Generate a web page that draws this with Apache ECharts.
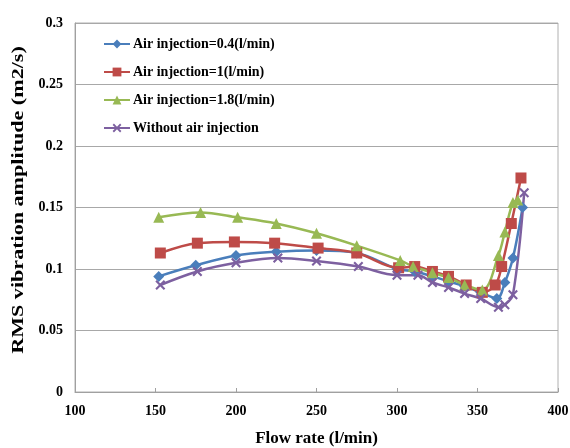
<!DOCTYPE html>
<html>
<head>
    <meta charset="utf-8" />
    <script src="https://cdn.jsdelivr.net/npm/echarts@6.0.0/dist/echarts.min.js"></script>
    <style>
        body { margin: 0px; overflow: hidden; background: #fff; }
        #main { width: 570px; height: 448px; }
    </style>
</head>
<body>
    <div id="main"></div>
</body>
<script type="text/javascript">
    // Air injection = 0.4 l/min
    var flow04 = [152, 175, 200, 225, 250, 275, 300, 311, 322, 332, 342, 352, 362, 367, 372, 378];
    var rms04 = [0.094, 0.103, 0.111, 0.114, 0.115, 0.113, 0.100, 0.098, 0.094, 0.090, 0.086, 0.081, 0.076, 0.089, 0.109, 0.150];
    // Air injection = 1 l/min
    var flow1 = [153, 176, 199, 224, 251, 275, 301, 311, 322, 332, 343, 353, 361, 365, 371, 377];
    var rms1 = [0.113, 0.121, 0.122, 0.121, 0.117, 0.113, 0.101, 0.102, 0.098, 0.094, 0.087, 0.081, 0.087, 0.102, 0.137, 0.174];
    // Air injection = 1.8 l/min
    var flow18 = [152, 178, 201, 225, 250, 275, 302, 310, 322, 332, 342, 353, 363, 367, 372, 375];
    var rms18 = [0.142, 0.146, 0.142, 0.137, 0.129, 0.119, 0.107, 0.102, 0.097, 0.093, 0.087, 0.083, 0.111, 0.130, 0.154, 0.156];
    // Without air injection
    var flow0 = [153, 176, 200, 226, 250, 276, 300, 313, 322, 332, 342, 352, 363, 367, 372, 379];
    var rms0 = [0.087, 0.098, 0.105, 0.109, 0.1065, 0.102, 0.095, 0.095, 0.089, 0.085, 0.080, 0.076, 0.069, 0.071, 0.079, 0.162];

    var seriesNames = ['Air injection=0.4(l/min)', 'Air injection=1(l/min)', 'Air injection=1.8(l/min)', 'Without air injection'];
    var xTicks = [100, 150, 200, 250, 300, 350, 400];
    var yTicks = [0, 0.05, 0.1, 0.15, 0.2, 0.25, 0.3];
    var yTitle = 'RMS vibration amplitude (m2/s)';
    var xTitle = 'Flow rate (l/min)';

    function pairs(xs, ys) {
        return xs.map(function (x, i) { return [x, ys[i]]; });
    }

    var xMark = 'path://M0,1.5 L1.5,0 L5,3.5 L8.5,0 L10,1.5 L6.5,5 L10,8.5 L8.5,10 L5,6.5 L1.5,10 L0,8.5 L3.5,5 Z';
    var font = '"Liberation Serif", "Times New Roman", serif';

    function line(name, data, color, symbol, size) {
        return {
            name: name,
            type: 'line',
            data: data,
            smooth: 0.35,
            symbol: symbol,
            symbolSize: size,
            lineStyle: { color: color, width: 2.5 },
            itemStyle: { color: color },
            z: 3
        };
    }

    var chart = echarts.init(document.getElementById('main'));
    chart.setOption({
        animation: false,
        textStyle: { fontFamily: font },
        legend: {
            orient: 'vertical',
            left: 98,
            top: 32,
            itemGap: 14,
            itemWidth: 26,
            itemHeight: 11,
            data: seriesNames,
            textStyle: { fontFamily: font, fontWeight: 'bold', fontSize: 14, color: '#000', padding: [0, 0, 0, -2] }
        },
        grid: {
            left: 75,
            right: 12,
            top: 23,
            bottom: 56,
            outerBoundsMode: 'none',
            show: true,
            borderColor: '#b0b0b0',
            borderWidth: 1
        },
        xAxis: {
            type: 'value',
            min: xTicks[0],
            max: xTicks[xTicks.length - 1],
            interval: 50,
            name: xTitle,
            nameLocation: 'middle',
            nameGap: 38,
            nameTextStyle: { fontFamily: font, fontWeight: 'bold', fontSize: 17, color: '#000' },
            axisLine: { lineStyle: { color: '#a0a0a0' } },
            axisTick: { inside: true, length: 4, lineStyle: { color: '#a0a0a0' } },
            axisLabel: { fontFamily: font, fontWeight: 'bold', fontSize: 14, color: '#000', margin: 12 },
            splitLine: { show: false }
        },
        yAxis: {
            type: 'value',
            min: yTicks[0],
            max: yTicks[yTicks.length - 1],
            interval: 0.05,
            axisLine: { show: true, lineStyle: { color: '#a0a0a0' } },
            axisTick: { show: false },
            axisLabel: { fontFamily: font, fontWeight: 'bold', fontSize: 14, color: '#000', margin: 12 },
            splitLine: { lineStyle: { color: '#a8a8a8' } }
        },
        graphic: [{
            // y title is stretched along its length in the reference
            type: 'text',
            x: 19,
            y: 200,
            rotation: Math.PI / 2,
            scaleX: 1.3,
            style: {
                text: yTitle,
                font: 'bold 17px ' + font,
                fill: '#000',
                align: 'center',
                verticalAlign: 'middle'
            }
        }],
        series: [
            line(seriesNames[0], pairs(flow04, rms04), '#4A7EBB', 'diamond', 11),
            line(seriesNames[1], pairs(flow1, rms1), '#BE4B48', 'rect', 11),
            line(seriesNames[2], pairs(flow18, rms18), '#98B954', 'triangle', 11),
            line(seriesNames[3], pairs(flow0, rms0), '#7D60A0', xMark, 10)
        ]
    });
</script>
</html>
